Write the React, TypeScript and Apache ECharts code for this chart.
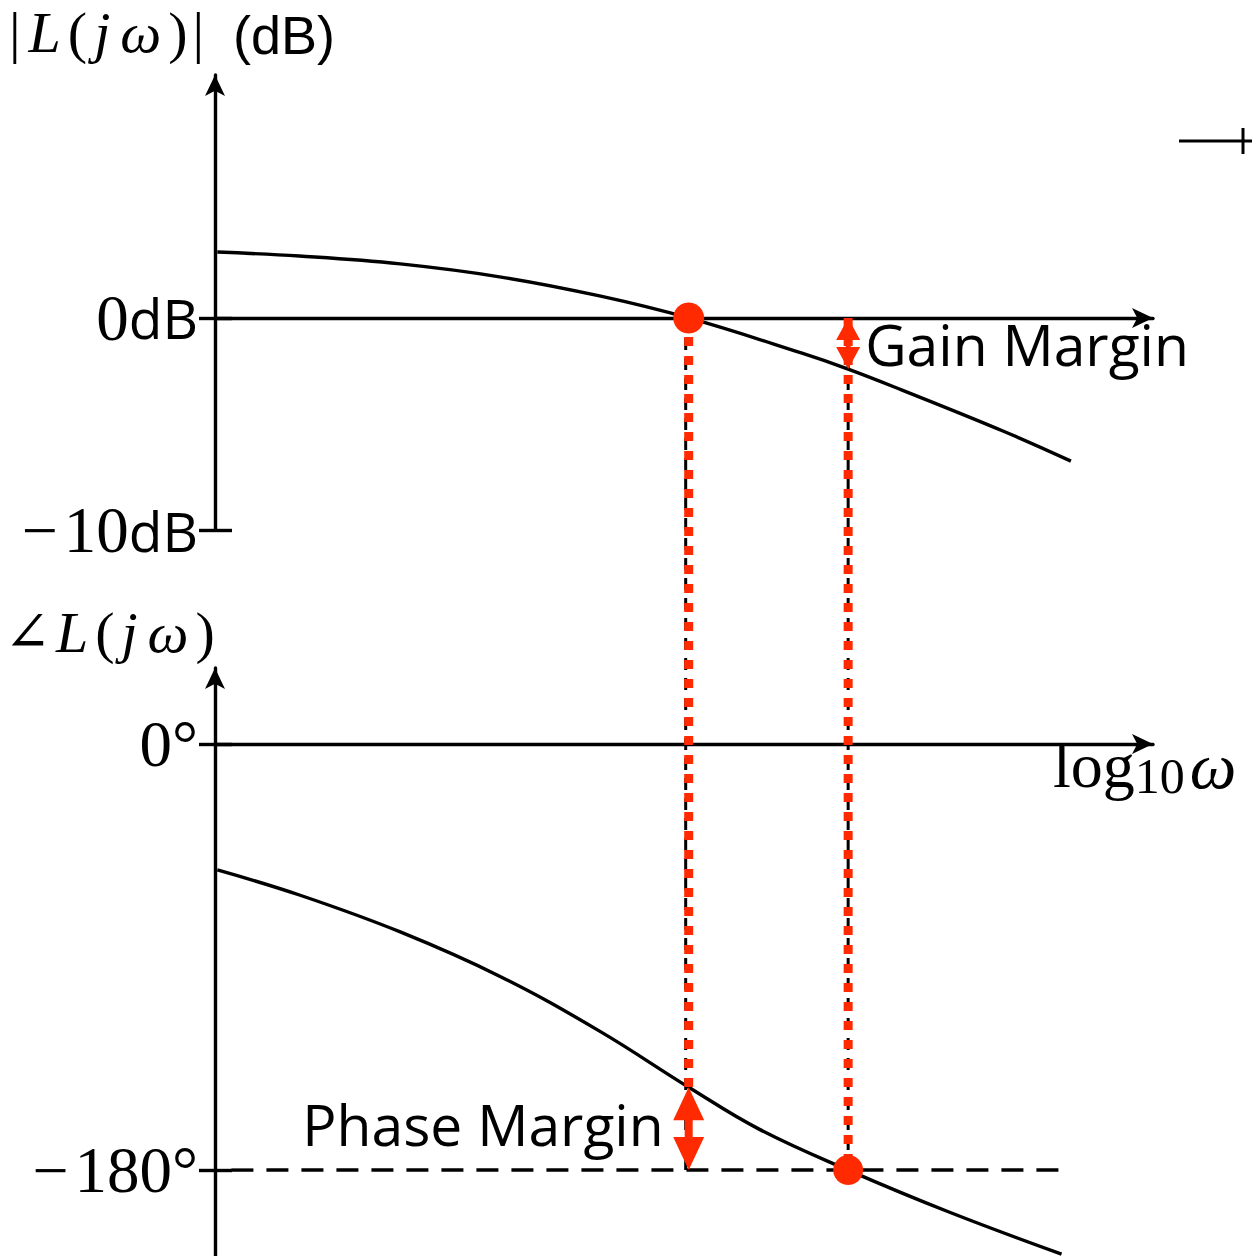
import React, { useEffect, useRef } from "react";
import * as echarts from "echarts";

// Open-loop frequency response of L(jω) against log10(ω)
const magFreq = [-0.99, -0.64, -0.21, 0.22, 0.64, 1.02, 1.5, 1.7, 1.93, 2.36, 2.65];
const magDb = [3.11, 2.92, 2.55, 1.93, 1.04, 0, -1.65, -2.41, -3.4, -5.33, -6.75];

const phaseFreq = [-0.99, -0.64, -0.21, 0.22, 0.64, 1.02, 1.32, 1.7, 2.13, 2.61];
const phaseDeg = [-53.2, -63.8, -79.4, -98.4, -121.3, -145, -162.7, -180, -197.7, -215.5];

// Crossover frequencies and the margins read at them
const gainCrossover = 1.02; // |L(jω)| = 0 dB
const phaseCrossover = 1.7; // ∠L(jω) = -180°
const phaseAtGainCrossover = -145;
const magAtPhaseCrossover = -2.41;

// Axis extents and tick values
const freqRange = [-1, 3];
const magRange = [-10, 11.46];
const phaseRange = [-216.3, 32.1];
const magTicks = [0, -10];
const phaseTicks = [0, -180];
const refLineFreq = [-0.93, 2.65]; // extent of the dashed -180° reference

const RED = "#ff2a00";
const SERIF = '"Liberation Serif", "DejaVu Serif", serif';
const SANS = '"Open Sans", "Noto Sans", sans-serif';
const SANS_COMPACT = '"Liberation Sans", "DejaVu Sans", sans-serif';

const blackLine = { color: "#000", width: 3.4 };
const axisArrow = { symbol: ["none", "arrow"], symbolSize: [15, 21] };

// tick text: a wide math minus, serif digits
const tickNum = (v: number) =>
  v < 0 ? `{m|\u2212}{n|${Math.abs(v)}}` : `{n|${v}}`;

const labelRich = {
  m: { fontFamily: SERIF, fontSize: 64, color: "#000", padding: [0, 6, 0, 0] },
  n: { fontFamily: SERIF, fontSize: 65, color: "#000" },
  u: { fontFamily: SANS, fontSize: 55, color: "#000" },
};

function yAxes(grid: number, range: number[], ticks: number[], fmt: (v: number) => string) {
  return [
    {
      type: "value",
      gridIndex: grid,
      position: "left",
      min: range[0],
      max: range[1],
      axisLine: { show: true, onZero: false, ...axisArrow, lineStyle: blackLine },
      axisTick: { show: true, inside: false, length: 16, customValues: ticks, lineStyle: blackLine },
      axisLabel: { show: true, customValues: ticks, margin: 17, formatter: fmt, rich: labelRich },
      splitLine: { show: false },
    },
    {
      type: "value",
      gridIndex: grid,
      position: "left",
      min: range[0],
      max: range[1],
      axisLine: { show: false, onZero: false },
      axisTick: { show: true, inside: true, length: 17, customValues: ticks, lineStyle: blackLine },
      axisLabel: { show: false },
      splitLine: { show: false },
    },
  ];
}

function xAxis(grid: number, zeroAxis: number) {
  return {
    type: "value",
    gridIndex: grid,
    min: freqRange[0],
    max: freqRange[1],
    axisLine: { show: true, onZero: true, onZeroAxisIndex: zeroAxis, ...axisArrow, lineStyle: blackLine },
    axisTick: { show: false },
    axisLabel: { show: false },
    splitLine: { show: false },
  };
}

function doubleArrow(x: number, yTop: number, yBot: number, headW: number, headL: number, shaftW: number, z: number) {
  const hw = headW / 2;
  const sw = shaftW / 2;
  return {
    type: "polygon",
    z,
    shape: {
      points: [
        [x, yTop],
        [x + hw, yTop + headL],
        [x + sw, yTop + headL],
        [x + sw, yBot - headL],
        [x + hw, yBot - headL],
        [x, yBot],
        [x - hw, yBot - headL],
        [x - sw, yBot - headL],
        [x - sw, yTop + headL],
        [x - hw, yTop + headL],
      ],
    },
    style: { fill: RED },
  };
}

function vline(x: number, y1: number, y2: number, style: any, z: number) {
  return { type: "line", z, shape: { x1: x, y1, x2: x, y2 }, style };
}

const ink = "#000";
const mathRich = {
  b: { fontFamily: SERIF, fontSize: 58, lineHeight: 58, fill: ink, padding: [0, 3, 0, 3] },
  p: { fontFamily: SERIF, fontSize: 58, lineHeight: 58, fill: ink, padding: [0, 2, 0, 2] },
  i: { fontFamily: SERIF, fontSize: 58, lineHeight: 58, fill: ink, fontStyle: "italic", padding: [0, 5, 0, 5] },
  a: { fontFamily: SERIF, fontSize: 56, lineHeight: 58, fill: ink },
  lg: { fontFamily: SERIF, fontSize: 64, lineHeight: 72, fill: ink },
  sub: { fontFamily: SERIF, fontSize: 50, lineHeight: 36, fill: ink, verticalAlign: "bottom" },
  w: { fontFamily: SERIF, fontSize: 66, lineHeight: 72, fill: ink, fontStyle: "italic", padding: [0, 0, 0, 5] },
};

export default function App() {
  const ref = useRef<HTMLDivElement>(null);

  useEffect(() => {
    if (!ref.current) return;
    const chart = echarts.init(ref.current, null, { renderer: "svg" });

    chart.setOption({
      animation: false,
      backgroundColor: "#fff",
      grid: [
        { left: 215, top: 75, width: 938, height: 455, outerBoundsMode: "none" },
        { left: 215, top: 668, width: 938, height: 588, outerBoundsMode: "none" },
      ],
      xAxis: [xAxis(0, 0), xAxis(1, 2)],
      yAxis: [
        ...yAxes(0, magRange, magTicks, (v: number) => `${tickNum(v)}{u|dB}`),
        ...yAxes(1, phaseRange, phaseTicks, (v: number) => `${tickNum(v)}{n|°}`),
      ],
      series: [
        {
          type: "line",
          name: "magnitude",
          xAxisIndex: 0,
          yAxisIndex: 0,
          data: magFreq.map((f, i) => [f, magDb[i]]),
          smooth: 0.4,
          symbol: "none",
          lineStyle: blackLine,
          z: 3,
        },
        {
          type: "line",
          name: "phase",
          xAxisIndex: 1,
          yAxisIndex: 2,
          data: phaseFreq.map((f, i) => [f, phaseDeg[i]]),
          smooth: 0.4,
          symbol: "none",
          lineStyle: blackLine,
          clip: false,
          z: 3,
        },
        {
          type: "line",
          name: "-180°",
          xAxisIndex: 1,
          yAxisIndex: 2,
          data: refLineFreq.map((f) => [f, -180]),
          symbol: "none",
          lineStyle: { color: "#000", width: 3.4, type: [22, 13] },
          z: 2,
        },
        {
          type: "scatter",
          xAxisIndex: 0,
          yAxisIndex: 0,
          data: [[gainCrossover, 0]],
          symbolSize: 31,
          itemStyle: { color: RED, opacity: 1 },
          z: 10,
        },
        {
          type: "scatter",
          xAxisIndex: 1,
          yAxisIndex: 2,
          data: [[phaseCrossover, -180]],
          symbolSize: 30,
          itemStyle: { color: RED, opacity: 1 },
          z: 10,
        },
      ],
    });

    const toMag = (x: number, y: number) =>
      chart.convertToPixel({ xAxisIndex: 0, yAxisIndex: 0 }, [x, y]) as number[];
    const toPhase = (x: number, y: number) =>
      chart.convertToPixel({ xAxisIndex: 1, yAxisIndex: 2 }, [x, y]) as number[];

    const gcTop = toMag(gainCrossover, 0);
    const gcPm = toPhase(gainCrossover, phaseAtGainCrossover);
    const gcBottom = toPhase(gainCrossover, -180);
    const pcTop = toMag(phaseCrossover, 0);
    const pcGm = toMag(phaseCrossover, magAtPhaseCrossover);
    const pcBottom = toPhase(phaseCrossover, -180);

    const blackDash = { stroke: "#000", lineWidth: 3, lineDash: [12, 8] };
    const redDots = { stroke: RED, lineWidth: 9, lineDash: [9, 10] };

    chart.setOption({
      graphic: [
        // guides from the magnitude plot down to the phase plot
        vline(gcTop[0] - 3, gcTop[1], gcBottom[1], blackDash, 1),
        vline(pcTop[0], pcTop[1], pcBottom[1], blackDash, 1),
        vline(gcTop[0], gcTop[1], gcPm[1], redDots, 4),
        vline(pcTop[0], pcTop[1], pcBottom[1], redDots, 4),
        // margin arrows
        doubleArrow(pcTop[0], pcTop[1], pcGm[1], 24, 22, 5, 6),
        doubleArrow(gcPm[0], gcPm[1], gcBottom[1], 31, 33, 8, 6),
        {
          type: "text",
          z: 20,
          x: pcTop[0] + 17,
          y: (pcTop[1] + pcGm[1]) / 2,
          style: { text: "Gain Margin", fontFamily: SANS, fontSize: 57, fill: ink, align: "left", verticalAlign: "middle" },
        },
        {
          type: "text",
          z: 20,
          x: gcPm[0] - 25,
          y: (gcPm[1] + gcBottom[1]) / 2 - 5,
          style: { text: "Phase Margin", fontFamily: SANS, fontSize: 57, fill: ink, align: "right", verticalAlign: "middle" },
        },
        // axis titles
        {
          type: "text",
          z: 20,
          x: 6,
          y: 32,
          style: {
            text: "{b||}{i|L}{p|(}{i|j}{i|ω}{p|)}{b||}",
            rich: mathRich,
            fill: ink,
            align: "left",
            verticalAlign: "middle",
          },
        },
        {
          type: "text",
          z: 20,
          x: 233,
          y: 35,
          style: { text: "(dB)", fontFamily: SANS_COMPACT, fontSize: 54, fill: ink, align: "left", verticalAlign: "middle" },
        },
        {
          type: "text",
          z: 20,
          x: 4,
          y: 632,
          style: {
            text: "{a|∠}{i|L}{p|(}{i|j}{i|ω}{p|)}",
            rich: mathRich,
            fill: ink,
            align: "left",
            verticalAlign: "middle",
          },
        },
        {
          type: "text",
          z: 20,
          x: 1053,
          y: 729,
          style: {
            text: "{lg|log}{sub|10}{w|ω}",
            rich: mathRich,
            fill: ink,
            align: "left",
            verticalAlign: "top",
          },
        },
        // fragment of a further axis at the top right
        { type: "line", z: 5, shape: { x1: 1179, y1: 141, x2: 1252, y2: 141 }, style: { stroke: ink, lineWidth: 3 } },
        { type: "line", z: 5, shape: { x1: 1243, y1: 128, x2: 1243, y2: 154 }, style: { stroke: ink, lineWidth: 3 } },
      ],
    });

    return () => chart.dispose();
  }, []);

  return (
    <div
      ref={ref}
      style={{ position: "absolute", left: 0, top: 0, width: 1252, height: 1256, background: "#fff" }}
    />
  );
}
